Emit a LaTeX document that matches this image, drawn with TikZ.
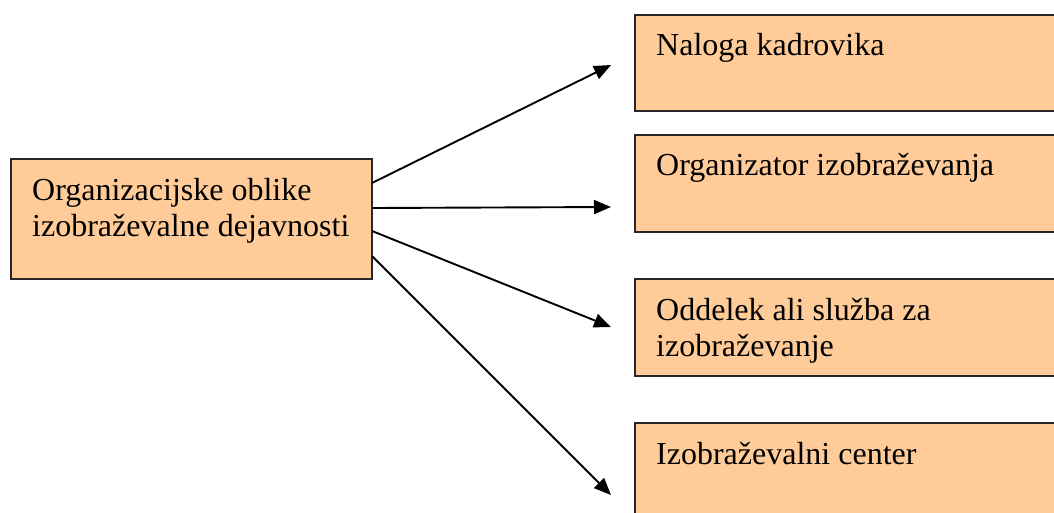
\documentclass[tikz,border=0pt]{standalone}
\usepackage{fontspec}
\setmainfont{Liberation Serif}
\usetikzlibrary{arrows.meta}
\definecolor{boxfill}{RGB}{255,204,153}
\definecolor{boxline}{RGB}{40,40,40}
\tikzset{
  unitbox/.style={draw=boxline, fill=boxfill, line width=1.8pt},
  boxtext/.style={anchor=base west, inner sep=0pt, font=\fontsize{32}{36.8}\selectfont},
  arr/.style={line width=1.9pt, -{Triangle[length=17pt,width=14pt]}}
}
\newcommand{\twolines}[2]{\begin{tabular}[t]{@{}l@{}}#1\\#2\end{tabular}}
\begin{document}
\begin{tikzpicture}[x=1pt,y=-1pt]
  \useasboundingbox (0,0) rectangle (1054,512);
  \clip (0,0) rectangle (1054,512);

  % source box
  \draw[unitbox] (11,159) rectangle (372,279);
  \coordinate (L) at (372,159);
  \node[boxtext] (ltext) at (32,200) {\twolines{Organizacijske oblike}{izobraževalne dejavnosti}};

  % target boxes (running past the right and bottom edges)
  \draw[unitbox] (635,15) rectangle (1070,111);
  \node[boxtext] (t1text) at (656,55) {Naloga kadrovika};

  \draw[unitbox] (635,135) rectangle (1070,232);
  \node[boxtext] (t2text) at (656,175) {Organizator izobraževanja};

  \draw[unitbox] (635,279) rectangle (1070,376);
  \node[boxtext] (t3text) at (656,320) {\twolines{Oddelek ali služba za}{izobraževanje}};

  \draw[unitbox] (635,423) rectangle (1070,530);
  \node[boxtext] (t4text) at (656,464) {Izobraževalni center};

  % arrow tips
  \coordinate (a1) at (611,65);
  \coordinate (a2) at (611,207);
  \coordinate (a3) at (611,327);
  \coordinate (a4) at (611,495);

  \draw[arr] ([yshift=-24pt]L) -- (a1);
  \draw[arr] ([yshift=-49pt]L) -- (a2);
  \draw[arr] ([yshift=-72pt]L) -- (a3);
  \draw[arr] ([yshift=-97pt]L) -- (a4);
\end{tikzpicture}
\end{document}
